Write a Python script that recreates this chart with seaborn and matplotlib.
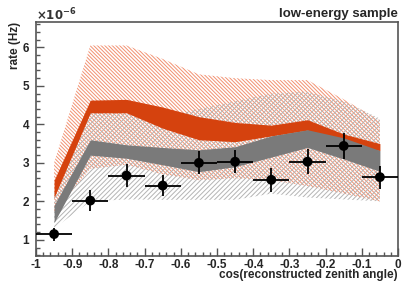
import numpy as np
import matplotlib
matplotlib.use("Agg")
import matplotlib.pyplot as plt
import seaborn as sns
from matplotlib.ticker import MultipleLocator

# bin centres in cos(zenith)
cos_zen = [-0.95, -0.85, -0.75, -0.65, -0.55, -0.45, -0.35, -0.25, -0.15, -0.05]

# measured rate (1e-6 Hz) with stat errors
data_rate = [1.15, 2.02, 2.67, 2.41, 3.00, 3.03, 2.56, 3.03, 3.44, 2.63]
data_err = [0.17, 0.28, 0.30, 0.28, 0.30, 0.30, 0.31, 0.32, 0.34, 0.30]

# model A (orange): stat band and systematic band
orange_lo = [2.10, 4.30, 4.30, 3.90, 3.60, 3.55, 3.70, 3.85, 3.47, 3.32]
orange_hi = [2.55, 4.63, 4.65, 4.45, 4.20, 4.05, 3.98, 4.12, 3.75, 3.50]
orange_sys_lo = [1.70, 2.85, 2.95, 2.70, 2.55, 2.60, 2.55, 2.40, 2.20, 2.00]
orange_sys_hi = [3.00, 6.05, 6.05, 5.70, 5.30, 5.20, 5.15, 5.15, 4.65, 4.10]

# model B (gray): stat band and systematic band
gray_lo = [1.45, 3.20, 3.12, 2.95, 2.77, 2.90, 3.15, 3.40, 3.10, 2.78]
gray_hi = [1.90, 3.60, 3.47, 3.40, 3.34, 3.42, 3.70, 3.86, 3.65, 3.32]
gray_sys_lo = [1.30, 2.00, 2.05, 2.04, 2.04, 2.04, 2.20, 2.10, 2.05, 2.00]
gray_sys_hi = [2.30, 4.40, 4.30, 4.20, 4.40, 4.60, 4.80, 4.85, 4.60, 4.15]

sns.set_style("ticks")
plt.rcParams['font.family'] = ['Liberation Sans', 'DejaVu Sans']
plt.rcParams['font.weight'] = 'bold'
plt.rcParams['hatch.linewidth'] = 0.7

fig = plt.figure(figsize=(4.17, 2.83), dpi=100)
ax = fig.add_axes([36 / 417, 27 / 283, 362 / 417, 234 / 283])

# systematic hatched bands
ax.fill_between(cos_zen, orange_sys_lo, orange_sys_hi, facecolor='none',
                edgecolor='#f29070', hatch='\\' * 9, linewidth=0)
ax.fill_between(cos_zen, gray_sys_lo, gray_sys_hi, facecolor='none',
                edgecolor='#b4b4b4', hatch='/' * 7, linewidth=0)

# statistical bands
ax.fill_between(cos_zen, orange_lo, orange_hi, color='#d5420e', linewidth=0)
ax.fill_between(cos_zen, gray_lo, gray_hi, color='#7a7a7a', linewidth=0)

# data
ax.errorbar(cos_zen, data_rate, xerr=0.05, yerr=data_err, fmt='none',
            ecolor='black', elinewidth=1.3, capsize=0, zorder=5)
sns.scatterplot(x=cos_zen, y=data_rate, color='black', s=50, edgecolor='none',
                ax=ax, zorder=6)

ax.set_xlim(-1, 0)
ax.set_ylim(0.58, 6.66)
ax.xaxis.set_minor_locator(MultipleLocator(0.02))
ax.yaxis.set_minor_locator(MultipleLocator(0.2))
ax.set_xticks(np.round(np.arange(-1, 0.01, 0.1), 1))
ax.set_xticklabels(['-1', '-0.9', '-0.8', '-0.7', '-0.6', '-0.5', '-0.4',
                    '-0.3', '-0.2', '-0.1', '0'])
ax.set_yticks([1, 2, 3, 4, 5, 6])
ax.set_yticklabels(['1', '2', '3', '4', '5', '6'])

ax.tick_params(axis='both', which='major', direction='in', length=6,
               width=1, color='#555555', labelsize=8.5)
ax.tick_params(axis='both', which='minor', direction='in', length=3,
               width=1, color='#555555')
ax.tick_params(axis='x', pad=2)
ax.tick_params(axis='y', pad=5)
for s in ax.spines.values():
    s.set_color('#555555')
    s.set_linewidth(1.2)

ax.set_xlabel('cos(reconstructed zenith angle)', fontsize=8.5,
              fontweight='bold', ha='right', x=1.0, labelpad=-1)
ax.set_ylabel('rate (Hz)', fontsize=8.5, fontweight='bold', ha='right',
              y=1.0, labelpad=1)
ax.text(0.0, 0.995, r'$\times10^{-6}$', transform=ax.transAxes, fontsize=8.5,
        ha='left', va='bottom', color='#333333')
ax.text(1.0, 1.01, 'low-energy sample', transform=ax.transAxes, fontsize=9.5,
        fontweight='bold', ha='right', va='bottom')

fig.savefig('out.png', dpi=100)
